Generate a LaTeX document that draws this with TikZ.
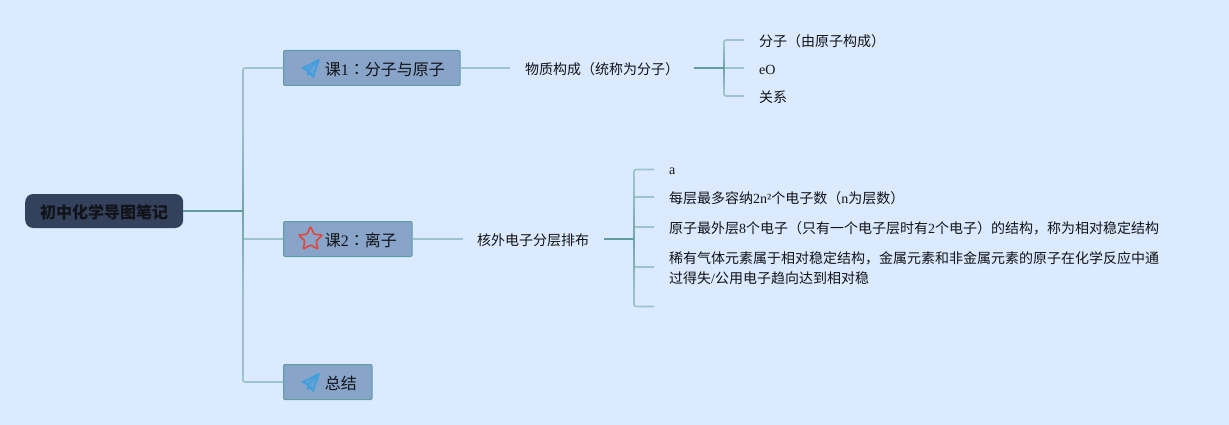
\documentclass[tikz,border=0pt]{standalone}
\usepackage{fontspec}
\usetikzlibrary{shapes.geometric,calc}
\setmainfont{Noto Sans CJK SC}
\newfontfamily\lat{Liberation Serif}
\newfontfamily\tcfont{Noto Sans CJK TC}
\newcommand{\la}[1]{{\lat #1}}
\newcommand{\dn}[1]{\raisebox{0pt}[15.2pt][0pt]{#1}}
\definecolor{bgc}{HTML}{DBEAFE}
\definecolor{rootc}{HTML}{33415C}
\definecolor{boxc}{HTML}{88A5C9}
\definecolor{boxl}{HTML}{5F9EA0}
\definecolor{darkl}{HTML}{5F9D9D}
\definecolor{midl}{HTML}{6FA6A8}
\definecolor{lightl}{HTML}{9CC5CB}
\definecolor{planec}{HTML}{3E9FE0}
\definecolor{starc}{HTML}{E0463C}
\definecolor{txt}{HTML}{111318}
\tikzset{
  rootbox/.style={draw=none,fill=rootc,rounded corners=8pt,anchor=west,minimum height=34pt,inner xsep=15pt,inner ysep=0pt,text=txt,font=\fontsize{16pt}{20pt}\bfseries\selectfont},
  topicbox/.style={draw=boxl,line width=1pt,fill=boxc,rounded corners=1pt,anchor=west,minimum height=35pt,inner ysep=0pt,text=txt,font=\fontsize{16pt}{20pt}\selectfont},
  midtext/.style={anchor=west,inner ysep=0pt,align=left,text=txt,font=\fontsize{14pt}{20pt}\selectfont},
  leaf/.style={anchor=west,inner xsep=15pt,inner ysep=0pt,align=left,text=txt,font=\fontsize{14pt}{20pt}\selectfont},
  conn/.style={draw=lightl,line width=1.7pt,rounded corners=2pt},
  conndark/.style={draw=darkl,line width=1.7pt},
  planeicon/.pic={
    \draw[planec,line width=1.6pt,line join=round,fill=planec!45!boxc]
      (8,-8.6) -- (-8.6,-0.4) -- (-3.2,2) -- (2.2,8.6) -- cycle;
    \draw[planec,line width=1.6pt,line join=round] (8,-8.6) -- (-3.2,2) -- (-3.2,6.5) -- (0,4.2);
  }
}
\begin{document}
\begin{tikzpicture}[x=1pt,y=-1pt]
\fill[bgc] (0,0) rectangle (1229,425);
\useasboundingbox (0,0) rectangle (1229,425);

% hubs
\coordinate (h0) at (243,211);
\coordinate (h1) at (724,68);
\coordinate (h2) at (634,239);

% main nodes
\node[rootbox] (root) at (25,211) {\dn{初中化学导图笔记}};
\node[topicbox,minimum width=176.5pt,inner xsep=0pt] (b1) at (283,68) {\hspace*{26pt}\dn{课\la{1}{\tcfont ：}分子与原子}};
\node[topicbox,minimum width=128.5pt,inner xsep=0pt] (b2) at (283,239) {\hspace*{26pt}\dn{课\la{2}{\tcfont ：}离子}};
\node[topicbox,minimum width=88.5pt,inner xsep=0pt] (b3) at (283,382) {\hspace*{26pt}\dn{总结}};

% second level
\node[midtext,inner xsep=15pt,text width=154pt] (m1) at (510,69) {物质构成（统称为分子）};
\node[midtext,inner xsep=14pt,text width=113pt] (m2) at (463,240) {核外电子分层排布};

% leaves
\node[leaf] (c1) at (744,41.5) {分子（由原子构成）};
\node[leaf] (c2) at (744,69.5) {\la{eO}};
\node[leaf] (c3) at (744,97) {关系};
\node[leaf] (d1) at (654,171) {\la{a}};
\node[leaf] (d2) at (654,198) {每层最多容纳\la{2n²}个电子数（\la{n}为层数）};
\node[leaf] (d3) at (654,228) {原子最外层\la{8}个电子（只有一个电子层时有\la{2}个电子）的结构，称为相对稳定结构};
\node[leaf] (d4) at (654,268) {稀有气体元素属于相对稳定结构，金属元素和非金属元素的原子在化学反应中通\\过得失\la{/}公用电子趋向达到相对稳};
\coordinate (d5) at (654,306.5);

% icons
\path (311,68.5) pic {planeicon};
\path (311,382.5) pic {planeicon};
\node[star,star points=5,star point ratio=2.1,draw=starc,line width=1.6pt,rounded corners=1pt,minimum size=25pt,inner sep=0pt] (s2) at (310.5,239) {};

% connectors: light layer
\draw[conn] (h0) |- (b1.west);
\draw[conn] (h0) |- (b2.west);
\draw[conn] (h0) |- (b3.west);
\draw[conn] (b1.east) -- (m1.west |- b1.east);
\draw[conn] (b2.east) -- (m2.west |- b2.east);
\draw[conn] (h1) |- ($(c1.west)+(0,-1.5)$);
\draw[conn] (h1) -- ($(c2.west)+(0,-1.5)$);
\draw[conn] (h1) |- ($(c3.west)+(0,-1)$);
\draw[conn] (h2) |- ($(d1.west)+(0,-1.5)$);
\draw[conn] (h2) |- ($(d2.west)+(0,-1)$);
\draw[conn] (h2) |- ($(d3.west)+(0,-1)$);
\draw[conn] (h2) |- ($(d4.west)+(0,-1)$);
\draw[conn] (h2) |- (d5);

% connectors: colour deepening towards the hubs
\shade[top color=lightl,bottom color=midl] ($(h0)+(-0.85,-90)$) rectangle ($(h0)+(0.85,0)$);
\shade[top color=midl,bottom color=lightl] ($(h0)+(-0.85,0)$) rectangle ($(h0)+(0.85,90)$);
\shade[top color=lightl,bottom color=midl] ($(h1)+(-0.85,-25)$) rectangle ($(h1)+(0.85,0)$);
\shade[top color=midl,bottom color=lightl] ($(h1)+(-0.85,0)$) rectangle ($(h1)+(0.85,25)$);
\shade[top color=lightl,bottom color=midl] ($(h2)+(-0.85,-60)$) rectangle ($(h2)+(0.85,0)$);
\shade[top color=midl,bottom color=lightl] ($(h2)+(-0.85,0)$) rectangle ($(h2)+(0.85,60)$);
\draw[conndark] (root.east) -- (h0);
\draw[conndark] (m1.east |- h1) -- (h1);
\draw[conndark] (m2.east |- h2) -- (h2);
\end{tikzpicture}
\end{document}
